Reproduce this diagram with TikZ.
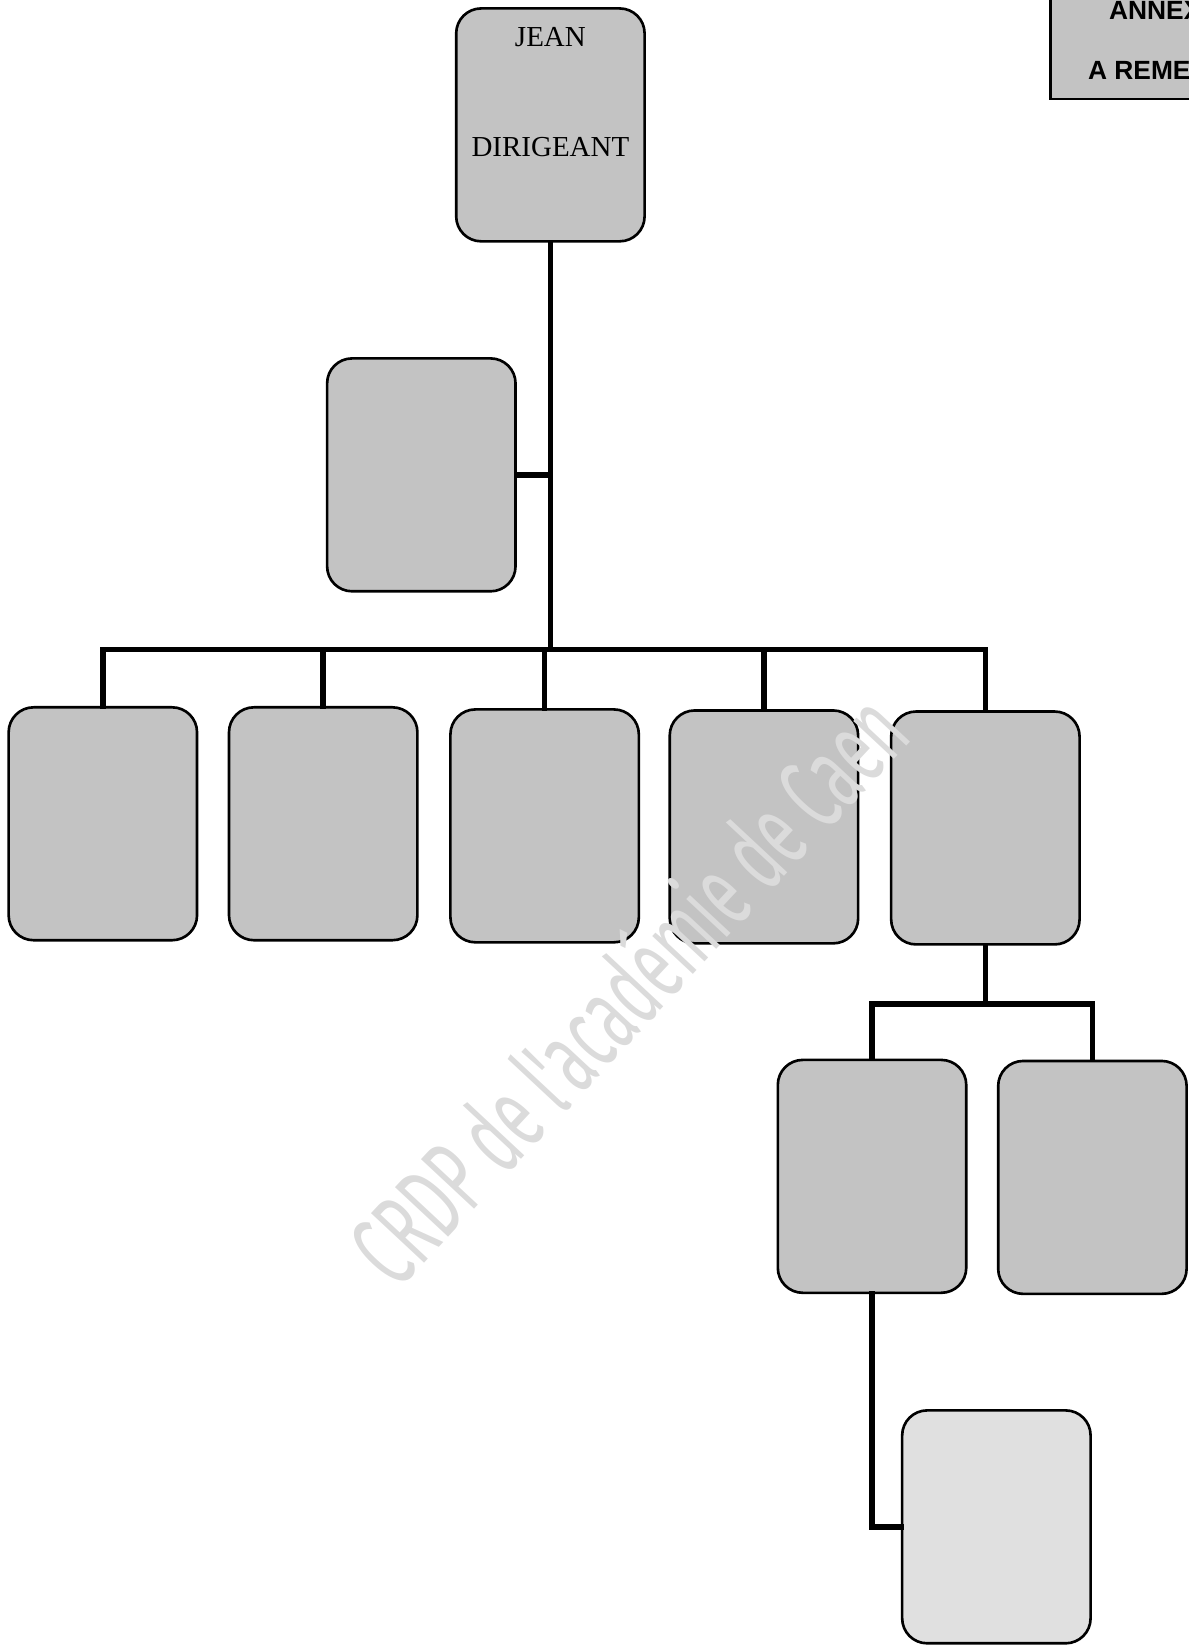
\documentclass[tikz,border=0pt]{standalone}
\usepackage{fontspec}
\setmainfont{Liberation Serif}
\newfontfamily\annexfont{Liberation Sans}
\newfontfamily\wmfont{Fira Sans}
\begin{document}
\begin{tikzpicture}[x=0.021cm,y=-0.021cm,
  orgbox/.style={draw=black, line width=1.5pt, fill=gray!47, rounded corners=0.5cm,
    minimum width=3.77cm, minimum height=4.66cm, inner sep=0pt},
  lightbox/.style={orgbox, fill=gray!24},
  conn/.style={line width=3.2pt, line cap=rect},
  boxtext/.style={font=\fontsize{16.5}{18}\selectfont, anchor=base},
  annextext/.style={font=\annexfont\bfseries\fontsize{15}{17}\selectfont, anchor=base west},
  wmtext/.style={text=gray!28, font=\wmfont\fontsize{60}{62}\selectfont}]
\useasboundingbox (0,0) rectangle (1133,1567.6);

% boxes
\node[orgbox] (jean) at (524.5,119) {};
\node[boxtext] (jeant) at (524.5,44.5) {JEAN};
\node[boxtext] (dirt) at (524.5,149) {DIRIGEANT};

\node[orgbox] (a) at (401.5,452.5) {};

\node[orgbox] (r1) at (98,785) {};
\node[orgbox] (r2) at (308,785) {};
\node[orgbox] (r3) at (519,787) {};
\node[orgbox] (r4) at (728,788) {};
\node[orgbox] (r5) at (939,789) {};

\node[orgbox] (s1) at (831,1121) {};
\node[orgbox] (s2) at (1041,1122) {};

\node[lightbox] (t) at (949.5,1455) {};

% annex box (cut by the page edge)
\node[draw=black, line width=1.6pt, fill=gray!47, minimum width=3.35cm, minimum height=2.2cm,
  inner sep=0pt] (annex) at (1081,42) {};
\node[annextext] (annex1) at (1051,19) {ANNEX};
\node[annextext] (annex2) at (1031,76) {A REME};

% connectors
\coordinate (bus) at (524.5,619);
\coordinate (bus2) at (939,957);
\draw[conn] (jean.south) -- (bus);
\draw[conn] (a.east) -- (a.east -| bus);
\draw[conn] (r1.north) |- (bus);
\draw[conn] (r5.north) |- (bus);
\draw[conn] (r2.north) -- (r2.north |- bus);
\draw[conn] (r3.north) -- (r3.north |- bus);
\draw[conn] (r4.north) -- (r4.north |- bus);
\draw[conn] (r5.south) -- (bus2);
\draw[conn] (s1.north) |- (bus2);
\draw[conn] (s2.north) |- (bus2);
\draw[conn] (s1.south) |- (t.west);

% watermark
\node[wmtext, rotate=47] (wm) at (596,940) {\scalebox{0.56}[1]{CRDP de l'académie de Caen}};
\end{tikzpicture}
\end{document}
